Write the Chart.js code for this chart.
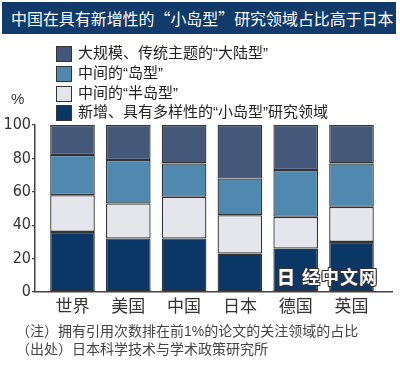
<!DOCTYPE html>
<html>
<head>
<meta charset="utf-8">
<script src="https://cdn.jsdelivr.net/npm/chart.js@4/dist/chart.umd.min.js"></script>
<style>
  html, body { margin: 0; padding: 0; background: #fff; }
  #wrap { position: relative; width: 400px; height: 368px; overflow: hidden; background: #fff; }
  #chart { position: absolute; left: 0; top: 0; }
  #title { position: absolute; left: 2px; top: 2px; width: 394px; height: 32px; background: #0f3a6a;
           color: #fff; font: 15.95px "Noto Sans CJK SC", sans-serif; line-height: 32px; padding-left: 9px; box-sizing: border-box; white-space: nowrap; }
  .leg { position: absolute; left: 56px; height: 16px; white-space: nowrap;
         font: 15px "Liberation Sans", "Noto Sans CJK SC", sans-serif; color: #222; }
  .leg i { position: absolute; left: 0; top: 0; width: 14px; height: 14px; border: 1px solid #333; }
  .leg span { position: absolute; left: 22px; top: -3px; line-height: 20px; }
  #pct { position: absolute; left: 11px; top: 90px; font: 15px "Liberation Sans", sans-serif; color: #333; }
  .note { position: absolute; left: 16px; font: 14px "Liberation Sans", "Noto Sans CJK SC", sans-serif; color: #444; white-space: nowrap; }
  #wm { position: absolute; left: 277px; top: 263px; font: bold 18px "Noto Sans CJK SC", sans-serif; color: #fff; letter-spacing: 1px;
        text-shadow: -1px -1px 0 #333, 1px -1px 0 #333, -1px 1px 0 #333, 1px 1px 0 #333; white-space: nowrap; }
  #wm b { margin-right: 6px; }
</style>
</head>
<body>
<div id="wrap">
  <canvas id="chart" width="400" height="368"></canvas>
  <div id="title">中国在具有新增性的“小岛型”研究领域占比高于日本</div>
  <div id="legend"></div>
  <div id="pct">%</div>
  <div class="note" style="top:320px">（注）拥有引用次数排在前1%的论文的关注领域的占比</div>
  <div class="note" style="top:338px">（出处）日本科学技术与学术政策研究所</div>
  <div id="wm"><b>日</b>经中文网</div>
</div>
<script>
// ---- data ----
const categories = ["世界", "美国", "中国", "日本", "德国", "英国"];
const smallIsland = [36, 32, 32, 23, 26, 30];   // 新增、具有多样性的“小岛型”研究领域
const halfIsland  = [22, 21, 25, 23, 19, 21];   // 中间的“半岛型”
const island      = [24, 26, 20, 22, 28, 26];   // 中间的“岛型”
const continent   = [18, 21, 23, 32, 27, 23];   // 大规模、传统主题的“大陆型”
const yTicks = [0, 20, 40, 60, 80, 100];

const seriesNames = [
  "新增、具有多样性的\u201c小岛型\u201d研究领域",
  "中间的\u201c半岛型\u201d",
  "中间的\u201c岛型\u201d",
  "大规模、传统主题的\u201c大陆型\u201d"
];
const seriesColors = ["#0b3766", "#e5e6ec", "#4f89b0", "#44597a"];
const seriesValues = [smallIsland, halfIsland, island, continent];

// legend (top item = top of stack)
const legendEl = document.getElementById("legend");
const legendTops = [46, 66, 86, 105];
for (let k = 0; k < 4; k++) {
  const idx = 3 - k;
  const d = document.createElement("div");
  d.className = "leg";
  d.style.top = legendTops[k] + "px";
  d.innerHTML = '<i style="background:' + seriesColors[idx] + '"></i><span>' + seriesNames[idx] + '</span>';
  legendEl.appendChild(d);
}

const datasets = seriesValues.map((vals, i) => ({
  label: seriesNames[i],
  data: vals.map((v, j) => ({ x: j, y: v })),
  backgroundColor: seriesColors[i],
  borderColor: "#333333",
  borderWidth: 1.3,
  borderSkipped: false,
  barPercentage: 0.8,
  categoryPercentage: 1.0
}));

const noPad = () => ({ left: 0, top: 0, right: 0, bottom: 0 });

new Chart(document.getElementById("chart"), {
  type: "bar",
  data: { datasets },
  options: {
    responsive: false,
    animation: false,
    layout: { autoPadding: false, padding: { left: 0, right: 8, top: 125, bottom: 50 } },
    plugins: { legend: { display: false }, tooltip: { enabled: false } },
    scales: {
      x: {
        type: "linear",
        stacked: true,
        offset: false,
        min: -0.672,
        max: 5.726,
        afterBuildTicks: (axis) => { axis.ticks = categories.map((c, i) => ({ value: i })); },
        afterFit: (s) => { s.height = 26; s.paddingLeft = 0; s.paddingRight = 0; s.getPadding = noPad; },
        grid: { display: false, drawTicks: false },
        border: { display: true, color: "#444", width: 1.5 },
        ticks: {
          padding: 3,
          color: "#333",
          maxRotation: 0,
          autoSkip: false,
          font: { family: "'Noto Sans CJK SC', sans-serif", size: 17 },
          callback: (v) => categories[v] ?? ""
        }
      },
      y: {
        stacked: true,
        min: 0,
        max: 100,
        afterBuildTicks: (axis) => { axis.ticks = yTicks.map(v => ({ value: v })); },
        afterFit: (s) => { s.width = 35; s.paddingTop = 0; s.paddingBottom = 0; s.getPadding = noPad; },
        grid: { drawOnChartArea: false, drawTicks: true, tickLength: 3, tickColor: "#444", lineWidth: 1.2 },
        border: { display: true, color: "#444", width: 1.5 },
        ticks: {
          padding: 1,
          color: "#333",
          font: { family: "'Liberation Sans Narrow', 'DejaVu Sans Condensed', sans-serif", size: 16 }
        }
      }
    }
  }
});
</script>
</body>
</html>
